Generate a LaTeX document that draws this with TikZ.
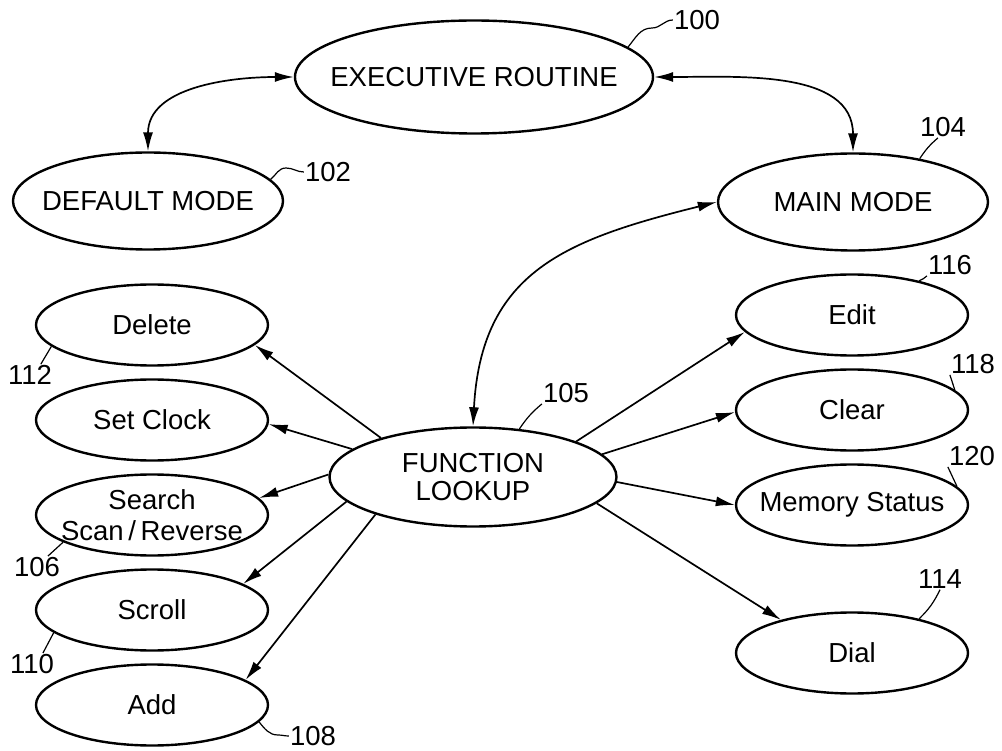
\documentclass[tikz,border=0pt]{standalone}
\usepackage{fontspec}
\setmainfont{Liberation Sans}
\usetikzlibrary{shapes.geometric, arrows.meta}
\usetikzlibrary{positioning}
\tikzstyle{modebox} = [draw, ellipse, line width=2.4pt, inner sep=0pt,
 minimum width=270pt, minimum height=97pt]
\tikzstyle{fnbox} = [draw, ellipse, line width=2.4pt, inner sep=0pt,
 minimum width=232pt, minimum height=81pt, node distance=95pt]
\tikzstyle{refnum} = [inner sep=1pt]
\tikzstyle{arrow} = [line width=1.7pt, -{Latex[length=19pt,width=10pt]}]
\tikzstyle{dblarrow} = [line width=1.7pt, {Latex[length=19pt,width=10pt]}-{Latex[length=19pt,width=10pt]}]
\tikzstyle{leader} = [line width=1.2pt]

\begin{document}
\begin{tikzpicture}[x=1pt, y=1pt, font=\fontsize{27.5}{31}\selectfont]
 	\useasboundingbox (0,0) rectangle (1002,-751);
 	
 	\node [modebox, minimum width=358pt, minimum height=113pt, label={center:EXECUTIVE ROUTINE}] (exec) at (474,-77) {};
 	\node [modebox, label={center:DEFAULT MODE}] (default) at (148,-201) {};
 	\node [modebox, label={center:MAIN MODE}] (main) at (853,-202) {};
 	\node [modebox, minimum width=287pt, minimum height=99pt, label={[align=center]center:FUNCTION\\[-3pt]LOOKUP}] (lookup) at (473,-477) {};
 	
 	% left column
 	\node [fnbox, label={center:Delete}] (delete) at (152,-325) {};
 	\node [fnbox, below of=delete, label={center:Set Clock}] (clock) {};
 	\node [fnbox, below of=clock, label={[align=center]center:Search\\Scan\,/\,Reverse}] (search) {};
 	\node [fnbox, below of=search, label={center:Scroll}] (scroll) {};
 	\node [fnbox, below of=scroll, label={center:Add}] (add) {};
 	
 	% right column
 	\node [fnbox, label={center:Edit}] (edit) at (852,-315) {};
 	\node [fnbox, below of=edit, label={center:Clear}] (clear) {};
 	\node [fnbox, below of=clear, label={center:Memory Status}] (memory) {};
 	\node [fnbox, node distance=148pt, below of=memory, label={center:Dial}] (dial) {};
 	
 	\draw [dblarrow] (exec.west) to[out=180, in=90] (default.north);
 	\draw [dblarrow] (exec.east) to[out=0, in=90] (main.north);
 	\draw [dblarrow] (lookup.north) to[out=87, in=194, looseness=1.2] (main.west);
 	
 	\draw [arrow] (lookup.157) -- (delete.-11);
 	\draw [arrow] (lookup.167) -- (clock.-2);
 	\draw [arrow] (lookup.179) -- (search.9);
 	\draw [arrow] (lookup.191) -- (scroll.16);
 	\draw [arrow] (lookup.201) -- (add.15);
 	\draw [arrow] (lookup.19) -- (edit.189);
 	\draw [arrow] (lookup.10) -- (clear.181);
 	\draw [arrow] (lookup.-2) -- (memory.180);
 	\draw [arrow] (lookup.-12) -- (dial.155);
 	
 	% reference numerals
 	\node [refnum] (n100) at (697,-20) {100};
 	\node [refnum] (n102) at (328,-172) {102};
 	\node [refnum] (n104) at (943,-127) {104};
 	\node [refnum] (n105) at (566,-393) {105};
 	\node [refnum] (n112) at (30,-375) {112};
 	\node [refnum] (n106) at (37,-567) {106};
 	\node [refnum] (n110) at (32,-664) {110};
 	\node [refnum] (n108) at (313,-736) {108};
 	\node [refnum] (n116) at (950,-265) {116};
 	\node [refnum] (n118) at (973,-364) {118};
 	\node [refnum] (n120) at (972,-456) {120};
 	\node [refnum] (n114) at (940,-579) {114};
 	
 	\draw [leader] (exec.11) to[out=50, in=180] (652,-28) to[out=0, in=180] (n100.west);
 	\draw [leader] (default.10) to[out=40, in=180] (286,-168) to[out=0, in=180] (n102.west);
 	\draw [leader] (main.33) to[bend left=8] (n104.-115);
 	\draw [leader] (lookup.46) to[bend left=8] (n105.south west);
 	\draw [leader] (delete.192) -- (n112.45);
 	\draw [leader] (search.197) -- (n106.45);
 	\draw [leader] (scroll.193) -- (n110.45);
 	\draw [leader] (add.-9) to[out=-50, in=180] (278,-735) to[out=0, in=180] (n108.west);
 	\draw [leader] (edit.27) to[bend right=10] (n116.south west);
 	\draw [leader] (clear.11) -- (n118.south west);
 	\draw [leader] (memory.10) -- (n120.south west);
 	\draw [leader] (dial.27) to[bend right=10] (n114.south);
 	
\end{tikzpicture}
\end{document}
